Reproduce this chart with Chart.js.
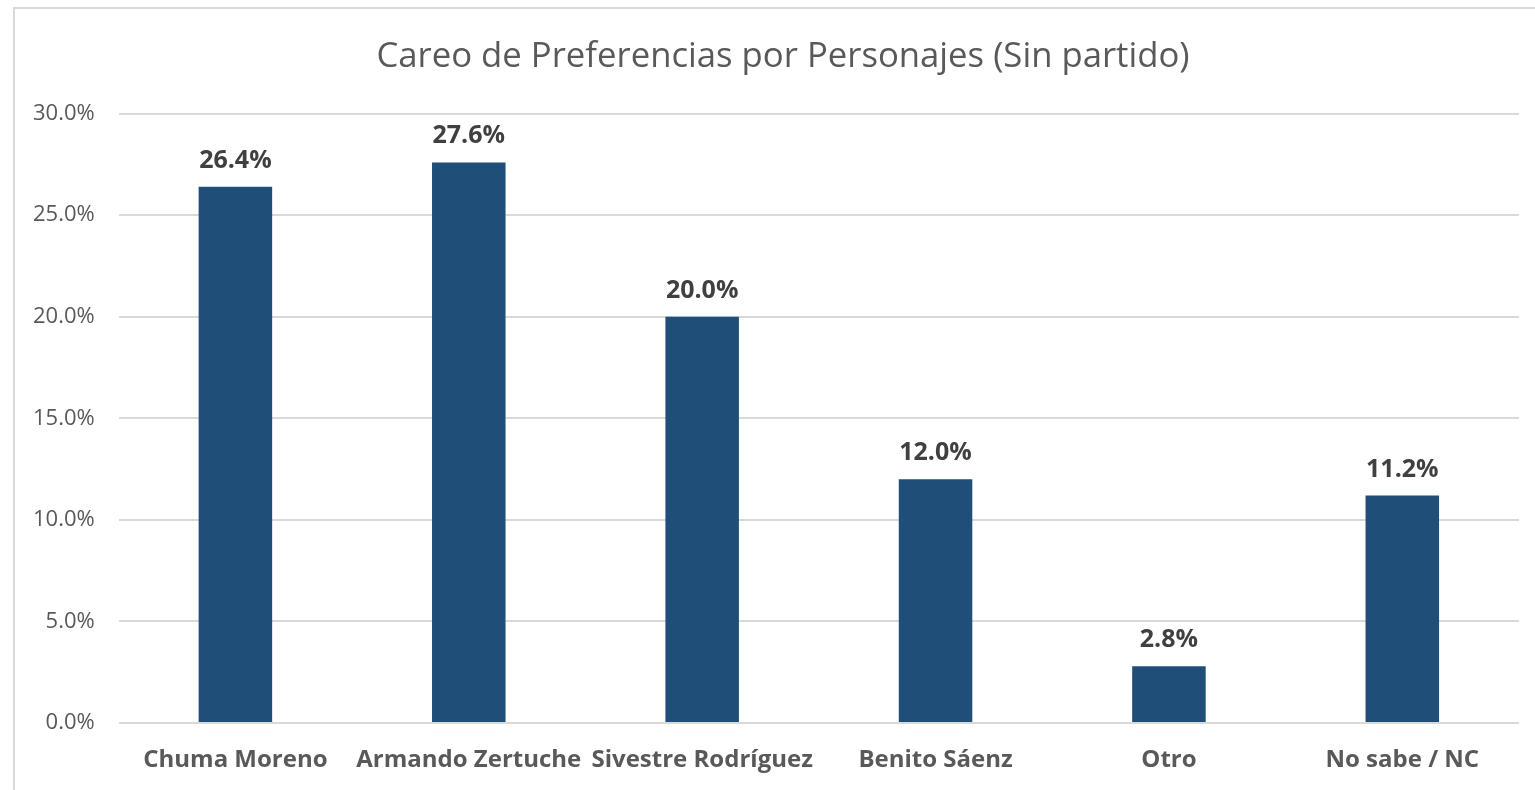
<!DOCTYPE html>
<html>
<head>
<meta charset="utf-8">
<script src="https://cdn.jsdelivr.net/npm/chart.js@4"></script>
<style>
  html, body { margin: 0; padding: 0; background: #fff; overflow: hidden; }
  #frame { position: absolute; left: 13px; top: 7px; width: 1540px; height: 800px; border: 2px solid #d9d9d9; box-sizing: border-box; }
  #wrap { position: absolute; left: 0; top: 0; width: 1535px; height: 790px; }
</style>
</head>
<body>
<div id="frame"></div>
<div id="wrap"><canvas id="chart"></canvas></div>
<script>
const categories = ['Chuma Moreno', 'Armando Zertuche', 'Sivestre Rodríguez', 'Benito Sáenz', 'Otro', 'No sabe / NC'];
const values = [26.4, 27.6, 20.0, 12.0, 2.8, 11.2];
const chartTitle = 'Careo de Preferencias por Personajes (Sin partido)';

// draws the value over each bar
const barLabels = {
  id: 'barLabels',
  afterLayout(chart) {
    // the original title sits a bit right of the canvas centre
    chart.titleBlock.left += 38;
  },
  afterDatasetsDraw(chart) {
    const ctx = chart.ctx;
    const meta = chart.getDatasetMeta(0);
    ctx.save();
    ctx.font = 'bold 25px "Open Sans"';
    ctx.fillStyle = '#404040';
    ctx.textAlign = 'center';
    ctx.textBaseline = 'alphabetic';
    meta.data.forEach((bar, i) => {
      ctx.fillText(values[i].toFixed(1) + '%', bar.x, bar.y - 19);
    });
    ctx.restore();
  }
};

new Chart(document.getElementById('chart'), {
  type: 'bar',
  data: {
    labels: categories,
    datasets: [{
      data: values,
      backgroundColor: '#1f4e79',
      barPercentage: 0.63,
      categoryPercentage: 0.5
    }]
  },
  options: {
    responsive: true,
    maintainAspectRatio: false,
    animation: false,
    layout: { autoPadding: false, padding: { left: 9, right: 16, top: 0, bottom: 0 } },
    plugins: {
      legend: { display: false },
      tooltip: { enabled: false },
      title: {
        display: true,
        text: chartTitle,
        color: '#595959',
        font: { family: 'Open Sans', size: 34.7, weight: 'normal' },
        padding: { top: 36, bottom: 36 }
      }
    },
    scales: {
      x: {
        grid: { display: false, drawTicks: false },
        border: { display: false },
        ticks: {
          color: '#595959',
          font: { family: 'Open Sans', size: 24, weight: 'bold' },
          padding: 23,
          maxRotation: 0,
          autoSkip: false
        },
        afterFit: scale => { scale.height = 67; }
      },
      y: {
        min: 0,
        max: 30,
        border: { display: false },
        grid: { color: '#d9d9d9', lineWidth: 2, drawTicks: false },
        ticks: {
          stepSize: 5,
          color: '#595959',
          padding: 24,
          font: { family: 'Open Sans', size: 22 },
          callback: v => v.toFixed(1) + '%'
        }
      }
    }
  },
  plugins: [barLabels]
});
</script>
</body>
</html>
